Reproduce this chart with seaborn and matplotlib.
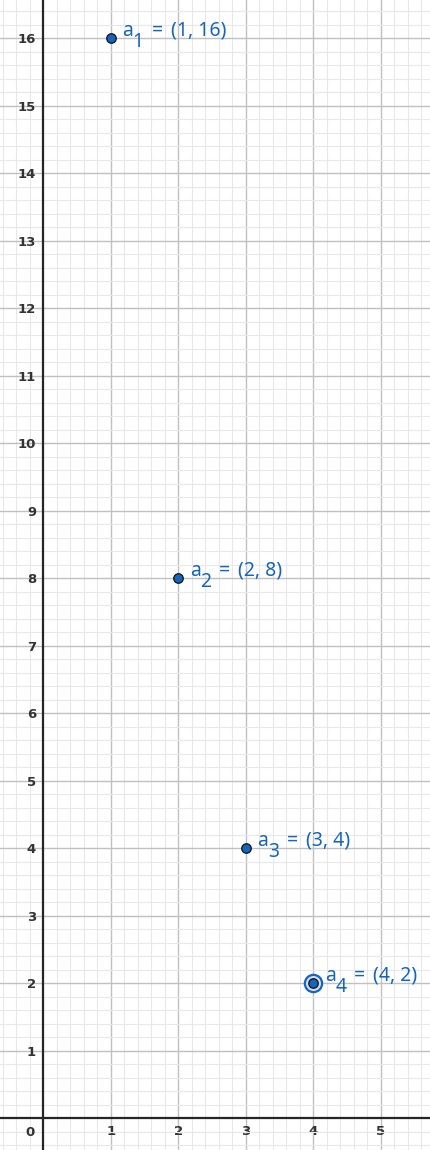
import matplotlib
matplotlib.use("Agg")
import matplotlib.pyplot as plt
import seaborn as sns
import pandas as pd
import numpy as np

# data
names = ["1", "2", "3", "4"]
xs = [1, 2, 3, 4]
ys = [16, 8, 4, 2]
xtick_vals = [1, 2, 3, 4, 5]
ytick_vals = list(range(1, 17))
highlight = "4"

df = pd.DataFrame({"name": names, "x": xs, "y": ys})

sns.set_style("white")
plt.rcParams['font.family'] = ['DejaVu Sans']

fig = plt.figure(figsize=(4.3, 11.5), dpi=100)
ax = fig.add_axes([0, 0, 1, 1])

ax.set_xlim(-0.644, 5.726)
ax.set_ylim(-0.474, 16.563)

# grid
ax.set_xticks(np.arange(-0.6, 5.8, 0.2), minor=True)
ax.set_yticks(np.arange(-0.4, 16.6, 0.2), minor=True)
ax.set_xticks(xtick_vals)
ax.set_yticks(ytick_vals)
ax.grid(which="minor", color="#e8e8e8", lw=0.8, zorder=0)
ax.grid(which="major", color="#c0c0c0", lw=1.0, zorder=0)
ax.set_axisbelow(True)
for s in ax.spines.values():
    s.set_visible(False)

tick_font = dict(family="DejaVu Sans", weight="bold", size=9.5)
ax.set_xticklabels([str(v) for v in xtick_vals], fontdict=tick_font)
ax.set_yticklabels([str(v) for v in ytick_vals], fontdict=tick_font)
ax.tick_params(axis="both", which="both", length=0)
ax.tick_params(axis="y", pad=-36 * 0.72, labelcolor="#333333")
ax.tick_params(axis="x", pad=-25 * 0.72, labelcolor="#333333")

# axes lines
ax.axhline(0, color="#252525", lw=1.6, zorder=2)
ax.axvline(0, color="#252525", lw=1.6, zorder=2)
ax.text(-0.2, -0.22, "0", ha="center", va="center", color="#333333",
        fontdict=tick_font)

# highlight ring
hd = df[df["name"] == highlight]
sns.scatterplot(data=hd, x="x", y="y", ax=ax, s=155, color="#d3ddee",
                edgecolor="#1565c0", linewidth=1.6, zorder=3, legend=False)
sns.scatterplot(data=df, x="x", y="y", ax=ax, s=46, color="#1565c0",
                edgecolor="#1a1a1a", linewidth=1.0, zorder=4, legend=False)

blue = "#1565c0"
lab_font = dict(fontsize=14, color=blue, family="Noto Sans")
px = 0.72  # points per pixel
for n, x, y in zip(names, xs, ys):
    ax.annotate("a", xy=(x, y), xytext=(11.3 * px, 2.3 * px),
                textcoords="offset points", ha="left", va="baseline",
                zorder=5, **lab_font)
    ax.annotate(n, xy=(x, y), xytext=(21.8 * px, -8.7 * px),
                textcoords="offset points", ha="left", va="baseline",
                zorder=5, **lab_font)
    ax.annotate("=", xy=(x, y), xytext=(40.5 * px, 2.3 * px),
                textcoords="offset points", ha="left", va="baseline",
                zorder=5, **lab_font)
    ax.annotate("(%d, %d)" % (x, y), xy=(x, y), xytext=(60 * px, 2.3 * px),
                textcoords="offset points", ha="left", va="baseline",
                zorder=5, **lab_font)

ax.set_xlabel("")
ax.set_ylabel("")
fig.savefig("out.png", dpi=100)
